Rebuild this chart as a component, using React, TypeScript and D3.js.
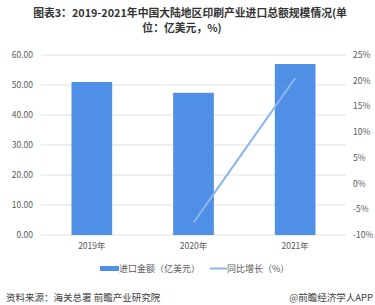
import React from "react";
import * as d3 from "d3";

const categories = ["2019年", "2020年", "2021年"];
const importValues = [51.0, 47.4, 57.0];
const growthCategories = ["2020年", "2021年"];
const growthValues = [-7.6, 20.5];
const leftTicks = [0, 10, 20, 30, 40, 50, 60];
const rightTicks = [-10, -5, 0, 5, 10, 15, 20, 25];

const W = 375;
const H = 305;
const FONT = "'Microsoft YaHei', 'Noto Sans CJK SC', sans-serif";

export default function App() {
  const x = d3.scaleBand().domain(categories).range([41, 346]).paddingInner(0.6).paddingOuter(0.3);
  const yL = d3.scaleLinear().domain([0, 60]).range([235, 55]);
  const yR = d3.scaleLinear().domain([-10, 25]).range([235, 55]);
  const cx = (c: string) => (x(c) ?? 0) + x.bandwidth() / 2;
  const line = d3
    .line<number>()
    .x((_, i) => cx(growthCategories[i]))
    .y((d) => yR(d));

  return (
    <svg width={W} height={H} style={{ position: "absolute", left: 0, top: 0, background: "#fff" }} fontFamily={FONT}>
      <rect width={W} height={H} fill="#fff" />
      <text x={190} y={17} textAnchor="middle" fontSize={10.8} fontWeight="bold" fill="#333">
        图表3：2019-2021年中国大陆地区印刷产业进口总额规模情况(单
      </text>
      <text x={182} y={31.5} textAnchor="middle" fontSize={10.8} fontWeight="bold" fill="#333">
        位：亿美元，%)
      </text>
      {leftTicks.map((t) => (
        <g key={"l" + t}>
          <line x1={41} x2={346} y1={yL(t)} y2={yL(t)} stroke="#d9d9d9" strokeWidth={0.8} />
          <text x={33} y={yL(t) + 3} textAnchor="end" fontSize={8.5} fill="#595959">
            {t.toFixed(2)}
          </text>
        </g>
      ))}
      {rightTicks.map((t) => (
        <text key={"r" + t} x={353} y={yR(t) + 3} textAnchor="start" fontSize={8.5} fill="#595959">
          {t + "%"}
        </text>
      ))}
      {categories.map((c, i) => (
        <rect
          key={c}
          x={x(c)}
          y={yL(importValues[i])}
          width={x.bandwidth()}
          height={yL(0) - yL(importValues[i])}
          fill="#4f8fe6"
        />
      ))}
      <path d={line(growthValues) ?? ""} fill="none" stroke="#8db4ee" strokeWidth={2} />
      {categories.map((c) => (
        <text key={"x" + c} x={cx(c)} y={249} textAnchor="middle" fontSize={8.5} fill="#595959">
          {c}
        </text>
      ))}
      <rect x={100} y={266} width={19} height={5} fill="#4f8fe6" />
      <text x={119} y={272} fontSize={9} fill="#595959">进口金额（亿美元）</text>
      <line x1={210} x2={227} y1={268.5} y2={268.5} stroke="#8db4ee" strokeWidth={2} />
      <text x={227} y={272} fontSize={9} fill="#595959">同比增长（%）</text>
      <text x={6} y={301} fontSize={9.5} fill="#404040">资料来源：海关总署 前瞻产业研究院</text>
      <text x={373} y={301} textAnchor="end" fontSize={9.5} fill="#404040">@前瞻经济学人APP</text>
    </svg>
  );
}
